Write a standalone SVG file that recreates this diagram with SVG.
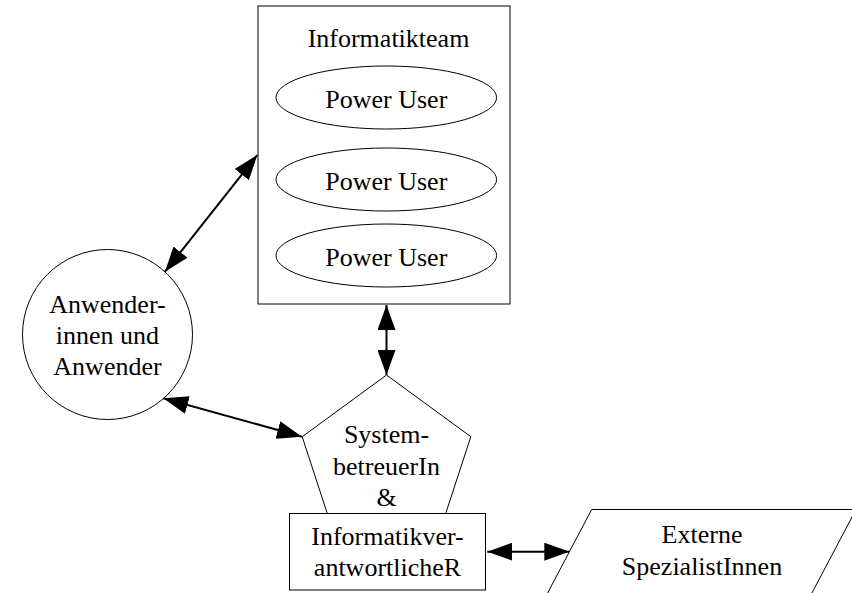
<svg xmlns="http://www.w3.org/2000/svg" width="852" height="593" viewBox="0 0 852 593">
<style>
.s{fill:#fff;stroke:#000;stroke-width:1}
.t{font-family:"Liberation Serif","Times New Roman",serif;font-size:26px;fill:#000;text-anchor:middle}
.c{stroke:#000;stroke-width:2;fill:none;marker-start:url(#ah);marker-end:url(#ah)}
</style>
<defs>
<marker id="ah" viewBox="0 -9 25 18" refX="25" refY="0" markerWidth="25" markerHeight="18" markerUnits="userSpaceOnUse" orient="auto-start-reverse">
<path d="M0,-9L25,0L0,9z" fill="#000"/>
</marker>
</defs>
<rect width="852" height="593" fill="#fff"/>
<g id="connectors">
<line class="c" x1="165" y1="271.7" x2="257.3" y2="155"/>
<line class="c" x1="163.3" y1="398.3" x2="302" y2="436.7"/>
<line class="c" x1="386.5" y1="305" x2="386.5" y2="375"/>
<line class="c" x1="487.3" y1="551.7" x2="569.3" y2="551.7"/>
</g>
<g id="informatikteam">
<rect class="s" x="258" y="6" width="252" height="298"/>
<text class="t" x="388.5" y="47">Informatikteam</text>
</g>
<g id="poweruser1">
<ellipse class="s" cx="386.3" cy="97.5" rx="110.3" ry="31.5"/>
<text class="t" x="386.3" y="107.5">Power User</text>
</g>
<g id="poweruser2">
<ellipse class="s" cx="386.3" cy="179.5" rx="110.3" ry="31.5"/>
<text class="t" x="386.3" y="189.5">Power User</text>
</g>
<g id="poweruser3">
<ellipse class="s" cx="386.3" cy="255.5" rx="110.3" ry="31.5"/>
<text class="t" x="386.3" y="265.5">Power User</text>
</g>
<g id="anwender">
<circle class="s" cx="107.5" cy="334.5" r="85"/>
<text class="t" x="107.5" y="313">Anwender-</text>
<text class="t" x="107.5" y="344">innen und</text>
<text class="t" x="107.5" y="375">Anwender</text>
</g>
<g id="systembetreuer">
<polygon class="s" points="386.5,375 470.8,436.7 438.6,535.3 334.4,535.3 302.2,436.7"/>
<text class="t" x="386.5" y="443">System-</text>
<text class="t" x="386.5" y="475">betreuerIn</text>
<text class="t" x="386.5" y="506">&amp;</text>
</g>
<g id="informatikverantwortlicher">
<rect class="s" x="289.5" y="513.5" width="196" height="76.5"/>
<text class="t" x="387.5" y="545">Informatikver-</text>
<text class="t" x="387.5" y="576">antwortlicheR</text>
</g>
<g id="externe">
<polygon class="s" points="591.7,509.5 856,509.5 811.4,594 547.1,594"/>
<text class="t" x="702" y="543">Externe</text>
<text class="t" x="702" y="575">SpezialistInnen</text>
</g>
</svg>
